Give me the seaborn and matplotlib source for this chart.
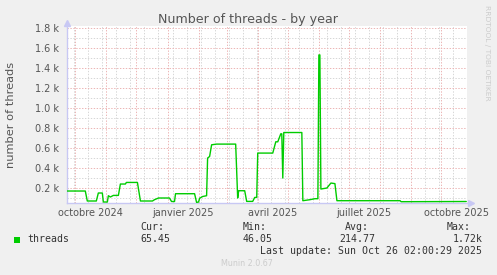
import numpy as np
import pandas as pd
import matplotlib
matplotlib.use("Agg")
import matplotlib.pyplot as plt
import matplotlib.dates as mdates
from matplotlib.patches import Rectangle
import seaborn as sns

# ---------------- data ----------------
dates = [
    "2024-09-21", "2024-10-11", "2024-10-13", "2024-10-22", "2024-10-24",
    "2024-10-28", "2024-10-29", "2024-11-02", "2024-11-03", "2024-11-05",
    "2024-11-08", "2024-11-13", "2024-11-15", "2024-11-20", "2024-11-21",
    "2024-12-02", "2024-12-05", "2024-12-17", "2024-12-19", "2024-12-23",
    "2025-01-03", "2025-01-05", "2025-01-08", "2025-01-09", "2025-01-28",
    "2025-01-30", "2025-02-01", "2025-02-02", "2025-02-05", "2025-02-09",
    "2025-02-10", "2025-02-12", "2025-02-14", "2025-02-19", "2025-03-10",
    "2025-03-12", "2025-03-13", "2025-03-19", "2025-03-21", "2025-03-27",
    "2025-03-29", "2025-03-31", "2025-04-01", "2025-04-16", "2025-04-19",
    "2025-04-21", "2025-04-24", "2025-04-25", "2025-04-26", "2025-04-27",
    "2025-05-15", "2025-05-16", "2025-05-23", "2025-05-28", "2025-05-31",
    "2025-06-01", "2025-06-02", "2025-06-03", "2025-06-09", "2025-06-13",
    "2025-06-17", "2025-06-19", "2025-08-21", "2025-08-22", "2025-10-26",
]
threads = [
    170, 170, 70, 70, 150,
    150, 60, 60, 123, 110,
    126, 126, 240, 240, 256,
    256, 70, 70, 83, 100,
    100, 65, 65, 143, 143,
    56, 60, 97, 115, 123,
    500, 516, 633, 640, 640,
    100, 173, 173, 66, 66,
    106, 106, 550, 550, 663,
    663, 743, 743, 300, 756,
    756, 73, 83, 93, 93,
    1533, 1533, 190, 200, 250,
    244, 73, 73, 63, 65,
]

ytick_values = [200, 400, 600, 800, 1000, 1200, 1400, 1600, 1800]
ytick_labels = ["0.2 k", "0.4 k", "0.6 k", "0.8 k", "1.0 k", "1.2 k", "1.4 k", "1.6 k", "1.8 k"]
xlabel_dates = ["2024-10-16", "2025-01-16", "2025-04-16", "2025-07-16", "2025-10-16"]
xlabel_texts = ["octobre 2024", "janvier 2025", "avril 2025", "juillet 2025", "octobre 2025"]

title = "Number of threads - by year"
ylabel = "number of threads"
series_name = "threads"
stat_names = ["Cur:", "Min:", "Avg:", "Max:"]
stat_values = ["65.45", "46.05", "214.77", "1.72k"]
last_update = "Last update: Sun Oct 26 02:00:29 2025"
footer = "Munin 2.0.67"
side_text = "RRDTOOL / TOBI OETIKER"

# ---------------- style ----------------
sns.set_style("white")
plt.rcParams['font.family'] = ['DejaVu Sans']

W, H = 497, 275
fig = plt.figure(figsize=(W / 100, H / 100), dpi=100, facecolor="#f0f0f0")
ax = fig.add_axes([67 / W, 1 - 203 / H, 400 / W, 177 / H])
ax.set_facecolor("white")

df = pd.DataFrame({"date": pd.to_datetime(dates), "threads": threads})

x0 = pd.Timestamp("2024-09-22 18:00")
x1 = pd.Timestamp("2025-10-26 18:00")

GREEN = "#00cc00"
RED_GRID = "#ecb4b4"
GRAY_GRID = "#d6d6d6"
AXIS = "#c8c8f4"
TXT = "#555555"
dot = (0, (1.4, 1.6))

# grid lines (horizontal)
ax.yaxis.set_major_locator(matplotlib.ticker.FixedLocator(ytick_values))
ax.yaxis.set_minor_locator(matplotlib.ticker.FixedLocator(list(range(100, 1801, 100))))
ax.set_yticklabels(ytick_labels)
ax.grid(which="major", axis="y", color=RED_GRID, lw=0.7, ls=dot, zorder=0)
ax.grid(which="minor", axis="y", color=GRAY_GRID, lw=0.7, ls=dot, zorder=0)

# vertical grid lines: month starts (red) and two-week (gray)
month_starts = pd.date_range("2024-10-01", "2025-10-01", freq="MS")
biweeks = pd.date_range("2024-09-30", "2025-10-26", freq="14D")
ax.xaxis.set_major_locator(matplotlib.ticker.FixedLocator(mdates.date2num(month_starts)))
ax.xaxis.set_minor_locator(matplotlib.ticker.FixedLocator(mdates.date2num(biweeks)))
ax.grid(which="major", axis="x", color=RED_GRID, lw=0.7, ls=dot, zorder=0)
ax.grid(which="minor", axis="x", color=GRAY_GRID, lw=0.7, ls=dot, zorder=0)
ax.set_xticklabels([])

sns.lineplot(data=df, x="date", y="threads", ax=ax, color=GREEN, lw=1.0,
             estimator=None, zorder=3)

ax.set_xlim(x0, x1)
ax.set_ylim(50, 1823)
ax.set_xlabel("")
ax.set_ylabel("")

ax.tick_params(axis="both", which="both", length=0)
ax.tick_params(axis="y", pad=5.8, labelsize=7, labelcolor=TXT)

# month labels centered mid-month
for d, t in zip(xlabel_dates, xlabel_texts):
    ax.text(mdates.date2num(pd.Timestamp(d)), -0.03, t, transform=ax.get_xaxis_transform(),
            ha="center", va="top", fontsize=7, color=TXT)

for s in ["top", "right"]:
    ax.spines[s].set_visible(False)
for s in ["left", "bottom"]:
    ax.spines[s].set_color(AXIS)
    ax.spines[s].set_linewidth(1.0)
ax.plot([0], [1 + 3 / 177], marker="^", ms=4, color=AXIS, transform=ax.transAxes, clip_on=False)
ax.plot([1 + 4 / 400], [0], marker=">", ms=4, color=AXIS, transform=ax.transAxes, clip_on=False)

def px(x, y):
    return x / W, 1 - y / H

# title, y label, side text
fig.text(*px(248.5, 19), title, ha="center", va="center", fontsize=9.1, color=TXT)
fig.text(*px(11, 115), ylabel, ha="center", va="center", rotation=90, fontsize=8.2, color=TXT)
fig.text(*px(487, 53), side_text, ha="center", va="center", rotation=270, fontsize=5.4, color="#cccccc")

# legend
mono = dict(family=["DejaVu Sans Mono"], fontsize=7.1, color="#333333")
fig.patches.append(Rectangle(px(14, 243), 6 / W, 6 / H, transform=fig.transFigure,
                             facecolor=GREEN, edgecolor="none"))
fig.text(*px(27, 239.5), series_name, ha="left", va="center", **mono)
name_x = [140, 243, 345, 447]
val_x = [140, 243, 339, 453]
for nx, vx, n, v in zip(name_x, val_x, stat_names, stat_values):
    fig.text(*px(nx, 227.5), n, ha="left", va="center", **mono)
    fig.text(*px(vx, 239.5), v, ha="left", va="center", **mono)
fig.text(*px(482, 251), last_update, ha="right", va="center", **mono)
fig.text(*px(246.5, 264), footer, ha="center", va="center", fontsize=5.8, color="#cccccc")

fig.savefig("out.png", dpi=100, facecolor=fig.get_facecolor())
